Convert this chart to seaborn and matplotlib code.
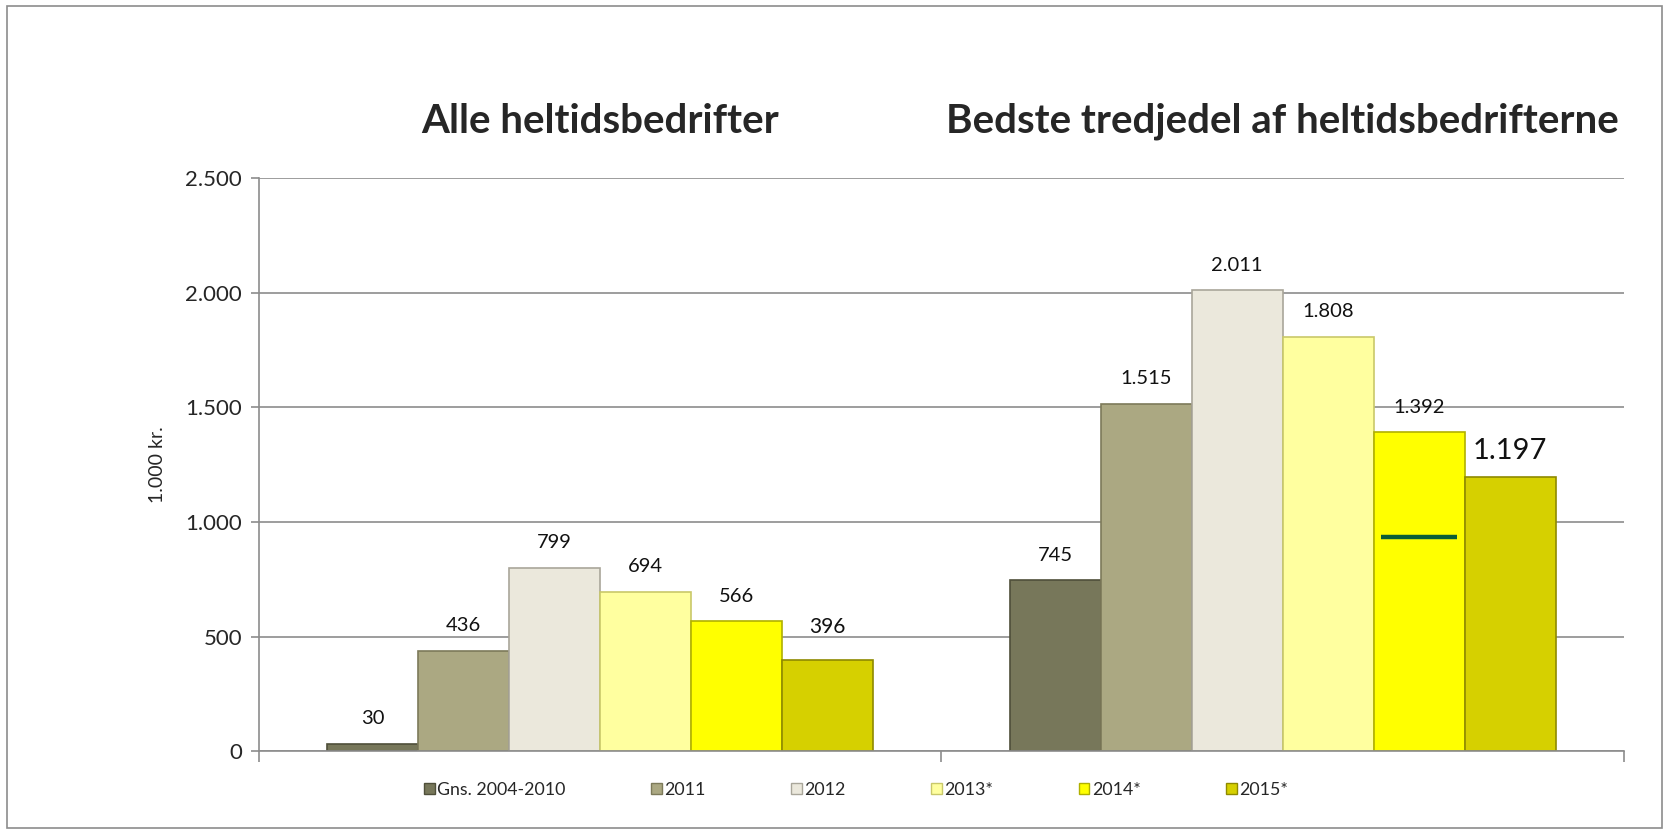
import pandas as pd
import matplotlib.pyplot as plt
import matplotlib.patches as mpatches
import seaborn as sns

groups = ["Alle heltidsbedrifter", "Bedste tredjedel af heltidsbedrifterne"]
series = ["Gns. 2004-2010", "2011", "2012", "2013*", "2014*", "2015*"]
alle = [30, 436, 799, 694, 566, 396]
bedste = [745, 1515, 2011, 1808, 1392, 1197]
marker_value = 935  # dark green line inside the 2014* bar (best third)
colors = ["#77775a", "#aba882", "#ebe8dc", "#ffff9f", "#ffff00", "#d6d000"]
edges = ["#4f4f3a", "#7d7a5a", "#a9a69a", "#c9c86a", "#b0b000", "#8f8a00"]

rows = []
for s, a, b in zip(series, alle, bedste):
    rows.append({"group": groups[0], "serie": s, "value": a})
    rows.append({"group": groups[1], "serie": s, "value": b})
df = pd.DataFrame(rows)

sns.set_style("white")
plt.rcParams["font.family"] = ["Lato", "DejaVu Sans"]

fig = plt.figure(figsize=(16.69, 8.34), dpi=100)
ax = fig.add_axes([0.155, 0.0995, 0.818, 0.6865])

sns.barplot(data=df, x="group", y="value", hue="serie", hue_order=series,
            palette=colors, width=0.8, saturation=1, ax=ax, legend=False)

for cont, ec in zip(ax.containers, edges):
    for p in cont:
        p.set_edgecolor(ec)
        p.set_linewidth(1.2)
    lbls = [f"{int(round(p.get_height())):,}".replace(",", ".") for p in cont]
    last = cont is ax.containers[-1]
    txts = ax.bar_label(cont, labels=lbls, padding=17 if last else 12, fontsize=15 if last else 14.5,
                        color="#111111")
    if last:
        # the 1.197 label is larger in the original
        txts[1].set_fontsize(21)
        txts[1].xyann = (0, 9)

# marker line in the 2014* bar of the second group
p = ax.containers[4][1]
x0, w = p.get_x(), p.get_width()
ax.hlines(marker_value, x0 + w * 0.08, x0 + w * 0.92, color="#0b5e36", lw=3.2, zorder=5)

ax.set_ylim(0, 2500)
ax.set_xlim(-0.5, 1.5)
ax.set_yticks(range(0, 2501, 500))
ax.set_yticklabels([f"{v:,}".replace(",", ".") for v in range(0, 2501, 500)], fontsize=16)
ax.yaxis.grid(True, color="#8c8c8c", lw=1.2)
ax.set_axisbelow(True)
ax.set_xticks([-0.5, 0.5, 1.5])
ax.set_xticklabels([])
ax.tick_params(axis="x", length=8, color="#8c8c8c", width=1.2, direction="out", bottom=True)
ax.tick_params(axis="y", length=6, color="#8c8c8c", width=1.2, left=True, pad=6)
ax.set_xlabel("")
ax.set_ylabel("1.000 kr.", fontsize=14, labelpad=14)
for side in ["top", "right"]:
    ax.spines[side].set_visible(False)
for side in ["left", "bottom"]:
    ax.spines[side].set_color("#8c8c8c")
    ax.spines[side].set_linewidth(1.2)

for i, g in enumerate(groups):
    ax.text(i, 2750, g, ha="center", va="center", fontsize=29, fontweight="bold")

handles = [mpatches.Patch(facecolor=c, edgecolor=e, label=s) for c, e, s in zip(colors, edges, series)]
fig.legend(handles=handles, loc="center", bbox_to_anchor=(0.513, 0.053), ncol=6, frameon=False,
           fontsize=12.8, handlelength=0.6, handleheight=0.6, handletextpad=0.15, columnspacing=4.8)

fig.patches.append(mpatches.Rectangle((0.004, 0.007), 0.992, 0.986, transform=fig.transFigure,
                                      fill=False, edgecolor="#8c8c8c", lw=1.2))

fig.savefig("out.png", dpi=100)
